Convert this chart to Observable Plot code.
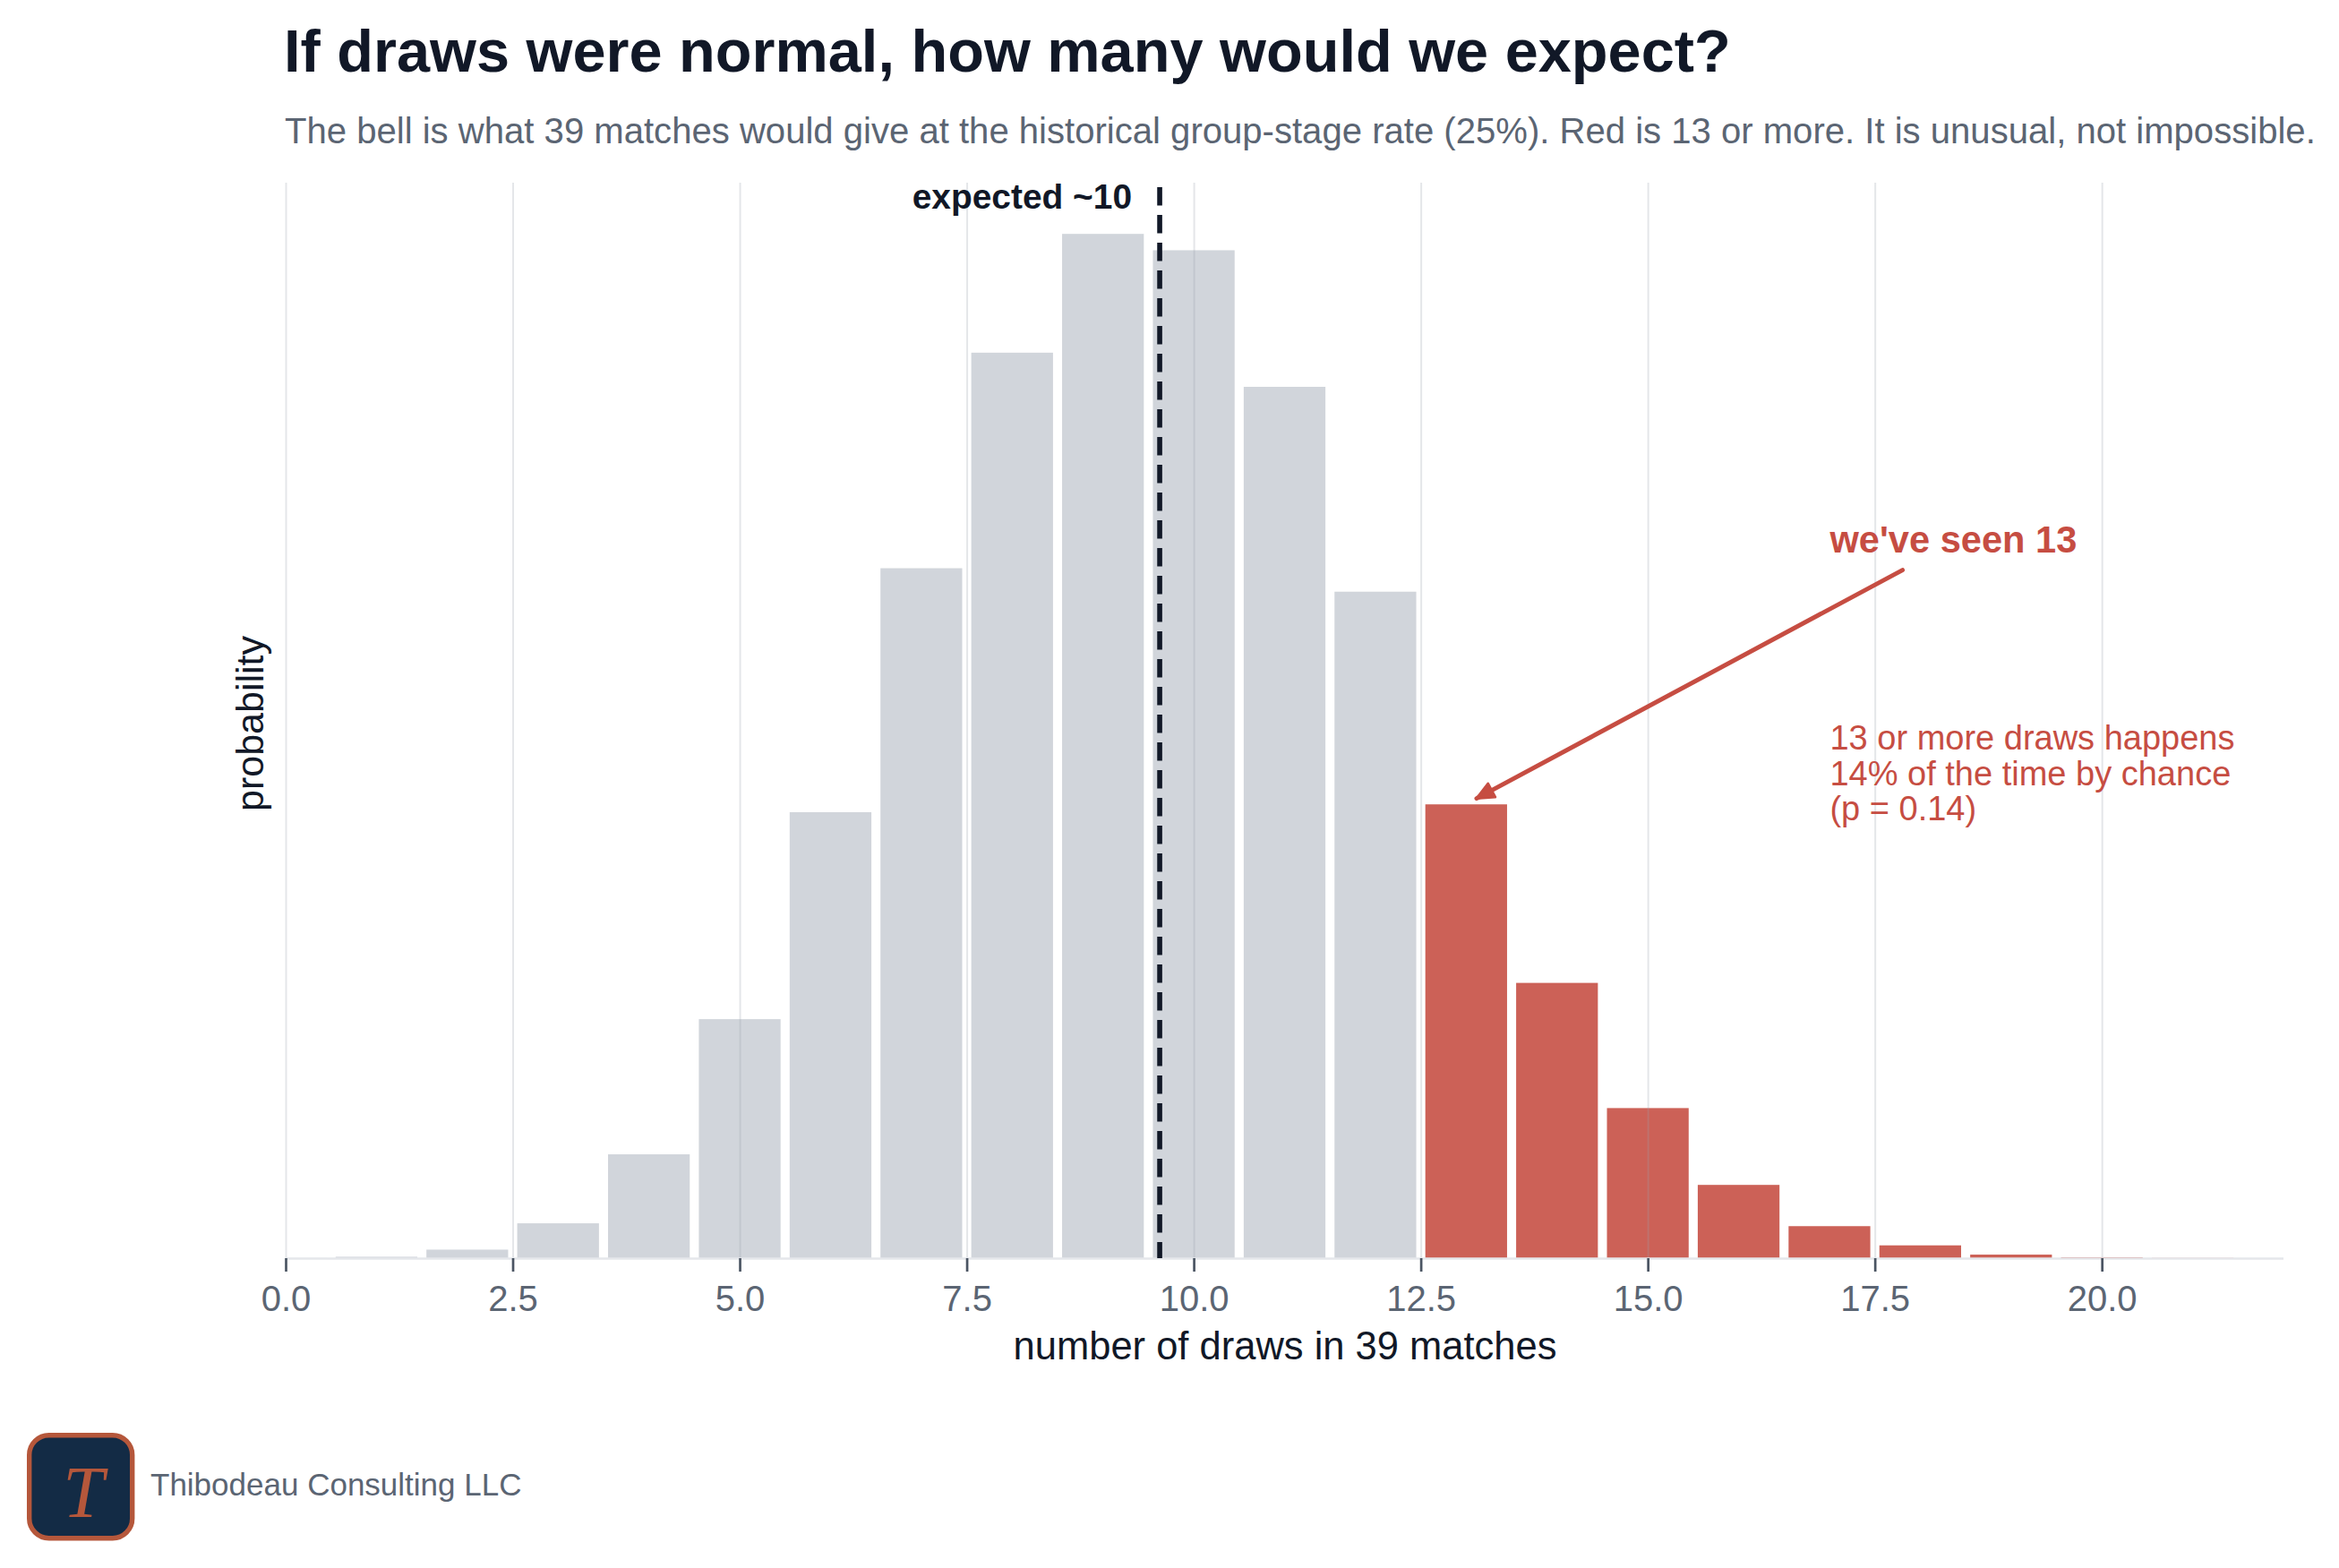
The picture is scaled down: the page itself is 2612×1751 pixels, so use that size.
<!DOCTYPE html>
<html><head><meta charset="utf-8">
<script src="https://cdn.jsdelivr.net/npm/d3@7"></script>
<script src="https://cdn.jsdelivr.net/npm/@observablehq/plot@0.6"></script>
<style>
html,body{margin:0;padding:0;background:#fff;}
#page{position:relative;width:2612px;height:1751px;font-family:"Liberation Sans",Arial,sans-serif;overflow:hidden;background:#fff;}
#header{position:relative;height:185px;}
.title{position:absolute;left:317px;top:23.5px;font-size:66.7px;line-height:1;font-weight:bold;color:#111827;white-space:nowrap;}
.subtitle{position:absolute;left:318px;top:126px;font-size:40.1px;line-height:1;color:#5b6573;white-space:nowrap;}
#chart{height:1365px;}
#chart svg{display:block;}
#footer{position:relative;height:201px;}
.logo{position:absolute;left:27px;top:47px;}
.brand{position:absolute;left:168px;top:90.4px;font-size:35px;line-height:1;color:#5b6573;white-space:nowrap;}
</style></head>
<body><div id="page">
<div id="header">
<div class="title">If draws were normal, how many would we expect?</div>
<div class="subtitle">The bell is what 39 matches would give at the historical group-stage rate (25%). Red is 13 or more. It is unusual, not impossible.</div>
</div>
<div id="chart"></div>
<div id="footer">
<svg class="logo" width="130" height="130" viewBox="0 0 130 130">
<rect x="5.7" y="5.7" width="115" height="115" rx="22" ry="22" fill="#132b45" stroke="#b5573b" stroke-width="5.4"/>
<text x="66" y="97" text-anchor="middle" font-family="Liberation Serif, DejaVu Serif, serif" font-style="italic" font-size="82" fill="#b5573b">T</text>
</svg>
<div class="brand">Thibodeau Consulting LLC</div>
</div>
</div>
<script>
// number of draws (k) in 39 matches
const draws = [0, 1, 2, 3, 4, 5, 6, 7, 8, 9, 10, 11, 12, 13, 14, 15, 16, 17, 18, 19, 20, 21];
// probability of exactly k draws
const probability = [0.00002, 0.0002, 0.0012, 0.0049, 0.0146, 0.0336, 0.0627, 0.0970, 0.1273, 0.1440, 0.1417, 0.1225, 0.0937, 0.0638, 0.0387, 0.0211, 0.0103, 0.0045, 0.0018, 0.0005, 0.00013, 0.00003];
const xTicks = [0, 2.5, 5, 7.5, 10, 12.5, 15, 17.5, 20];
const observedDraws = 13;
const expectedDraws = 9.62;
const expectedLabel = "expected ~10";
const observedLabel = "we've seen 13";
const tailLabel = "13 or more draws happens\n14% of the time by chance\n(p = 0.14)";

const GRAY = "#d1d5db";
const RED = "#cc6157";
const RED_TEXT = "#c64d42";
const INK = "#111827";
const MUTED = "#5b6573";

const rows = draws.map((k, i) => ({k, p: probability[i]}));
const yMax = d3.max(probability) * 1.05;

const W = 2612, H = 1365, mT = 19, mB = 145, mL = 319, mR = 62;
const xDomain = [0, 22];

// annotation arrow (data coordinates)
const arrowStart = {x: observedDraws + 4.8, y: 0.0968};
const arrowTip = {x: observedDraws + 0.11, y: probability[observedDraws] + 0.0009};
// screen-space direction of the arrow, for orienting the filled head
const kx = (W - mL - mR) / (xDomain[1] - xDomain[0]);
const ky = (H - mT - mB) / yMax;
const dxp = (arrowTip.x - arrowStart.x) * kx;
const dyp = -(arrowTip.y - arrowStart.y) * ky;
const headRotate = Math.atan2(dxp, -dyp) * 180 / Math.PI;
const filledHead = {
  draw(context, l) {
    context.moveTo(0, -l);
    context.lineTo(-8.5, 0);
    context.lineTo(8.5, 0);
    context.closePath();
  }
};

const chart = Plot.plot({
  width: W,
  height: H,
  marginTop: mT,
  marginBottom: mB,
  marginLeft: mL,
  marginRight: mR,
  style: {fontFamily: "'Liberation Sans', Arial, sans-serif", background: "white", overflow: "visible"},
  x: {domain: xDomain, axis: null},
  y: {domain: [0, yMax], axis: null},
  marks: [
    Plot.rect(rows.filter(d => d.k < observedDraws), {x1: d => d.k - 0.45, x2: d => d.k + 0.45, y1: 0, y2: "p", fill: GRAY, clip: true}),
    Plot.rect(rows.filter(d => d.k >= observedDraws), {x1: d => d.k - 0.45, x2: d => d.k + 0.45, y1: 0, y2: "p", fill: RED, clip: true}),
    Plot.ruleX(xTicks, {stroke: "#9ca3af", strokeOpacity: 0.27, strokeWidth: 2}),
    Plot.ruleY([0], {stroke: "#e5e7eb", strokeWidth: 2.7}),
    Plot.ruleX([expectedDraws], {stroke: INK, strokeWidth: 5.6, strokeDasharray: "20.5,10.5", strokeDashoffset: 26}),
    Plot.text([expectedLabel], {x: expectedDraws, frameAnchor: "top", dx: -31, dy: 1, lineAnchor: "top", textAnchor: "end", fontSize: 38.9, fontWeight: "bold", fill: INK}),
    Plot.link([observedDraws], {x1: arrowStart.x, y1: arrowStart.y, x2: arrowTip.x, y2: arrowTip.y, stroke: RED_TEXT, strokeWidth: 5, strokeLinecap: "round"}),
    Plot.vector([observedDraws], {x: arrowTip.x, y: arrowTip.y, length: 19, rotate: headRotate, anchor: "end", shape: filledHead, fill: RED_TEXT, stroke: RED_TEXT, strokeWidth: 3, strokeLinejoin: "round"}),
    Plot.text([observedLabel], {x: observedDraws + 4, y: 0.0993, lineAnchor: "bottom", textAnchor: "start", fontSize: 41.6, fontWeight: "bold", fill: RED_TEXT}),
    Plot.text([tailLabel], {x: observedDraws + 4, y: 0.0616, lineAnchor: "bottom", textAnchor: "start", lineHeight: 1.04, fontSize: 38, fill: RED_TEXT}),
    Plot.axisX(xTicks, {tickFormat: d3.format(".1f"), tickSize: 15, tickPadding: 15, fontSize: 40, stroke: "#4b5563", strokeWidth: 2.7, fill: MUTED, label: null}),
    Plot.text(["number of draws in 39 matches"], {frameAnchor: "bottom", dy: 112, lineAnchor: "bottom", fontSize: 43.5, fill: INK}),
    Plot.text(["probability"], {frameAnchor: "left", rotate: -90, dx: -26, dy: 3, lineAnchor: "bottom", textAnchor: "middle", fontSize: 43, fill: INK})
  ]
});
document.getElementById("chart").appendChild(chart);
</script>
</body></html>
